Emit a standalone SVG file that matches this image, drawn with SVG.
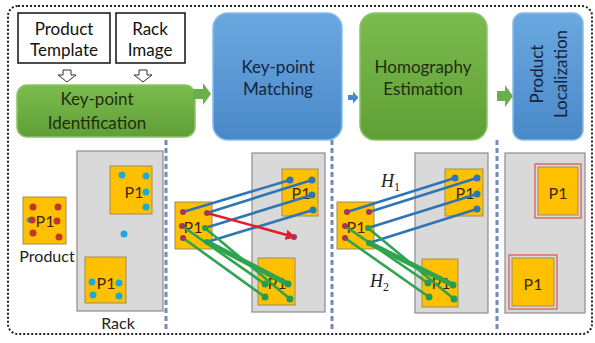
<svg xmlns="http://www.w3.org/2000/svg" width="595" height="343" viewBox="0 0 595 343">
<defs>
<linearGradient id="gG" x1="0" y1="0" x2="0" y2="1"><stop offset="0" stop-color="#7cbb4e"/><stop offset="1" stop-color="#5f9f35"/></linearGradient>
<linearGradient id="gB" x1="0" y1="0" x2="0" y2="1"><stop offset="0" stop-color="#6aa8e0"/><stop offset="1" stop-color="#4a89c9"/></linearGradient>
<marker id="ra" viewBox="0 0 10 10" refX="8" refY="5" markerWidth="4" markerHeight="4" orient="auto"><path d="M0,0 L10,5 L0,10 z" fill="#e0202a"/></marker>
</defs>
<style>
.lbl{font-family:Lato,"Open Sans","Liberation Sans",sans-serif;font-size:17px;text-anchor:middle;}
.box{fill:#fff;stroke:#111;stroke-width:1.5;}
.gbox{fill:url(#gG);stroke:#8cc46a;stroke-width:1.5;}
.bbox{fill:url(#gB);stroke:#8bbbe6;stroke-width:1.5;}
.gt{fill:#1e2e12;}
.bt{fill:#14243e;}
.rack{fill:#d9d9d9;stroke:#8c8c8c;stroke-width:1.2;}
.prod{fill:#ffc000;stroke:#a08c5a;stroke-width:1;}
.p1{font-family:Lato,"Open Sans","Liberation Sans",sans-serif;font-size:16px;text-anchor:middle;fill:#3a2a00;}
.sm{font-family:Lato,"Open Sans","Liberation Sans",sans-serif;font-size:16px;text-anchor:middle;fill:#222;}
.sep{stroke:#6f8cb8;stroke-width:3;stroke-dasharray:5 3;fill:none;}
.hol{fill:#fff;stroke:#333;stroke-width:1;}
.rd{fill:#c0362c;}
.cd{fill:#1fa8dc;}
.pd{fill:#a0385a;}
.bd{fill:#2e75b6;}
.gd{fill:#2a9a50;}
.bl{stroke:#2e75b6;stroke-width:2.6;}
.gl{stroke:#2ea44f;stroke-width:2.6;}
.glt{stroke:#2ea44f;stroke-width:5;}
.redl{stroke:#e0202a;stroke-width:2.6;}
.H{font-family:"Liberation Serif",serif;font-style:italic;font-size:18px;fill:#222;}
.Hs{font-family:"Liberation Serif",serif;font-size:12px;fill:#222;}
.loc{fill:none;stroke:#e05050;stroke-width:1.2;}
</style>
<rect x="8" y="6" width="584" height="328" rx="10" fill="none" stroke="#222" stroke-width="2" stroke-dasharray="2 2"/>

<g id="product-template">
<rect class="box" x="18" y="13" width="92" height="50"/>
<text class="lbl" x="64" y="35" fill="#111">Product</text>
<text class="lbl" x="64" y="56" fill="#111">Template</text>
<path class="hol" d="M63,70 h8 v5 h5 l-9,7 l-9,-7 h5 z"/>
</g>
<g id="rack-image">
<rect class="box" x="116" y="13" width="69" height="50"/>
<text class="lbl" x="150" y="35" fill="#111">Rack</text>
<text class="lbl" x="150" y="56" fill="#111">Image</text>
<path class="hol" d="M139,70 h8 v5 h5 l-9,7 l-9,-7 h5 z"/>
</g>
<g id="keypoint-identification">
<rect class="gbox" x="17" y="85" width="178" height="52" rx="10"/>
<text class="lbl gt" x="97" y="105">Key-point</text>
<text class="lbl gt" x="97" y="129">Identification</text>
</g>
<g id="keypoint-matching">
<rect class="bbox" x="213" y="13" width="129" height="127" rx="15"/>
<text class="lbl bt" x="278" y="73">Key-point</text>
<text class="lbl bt" x="278" y="95">Matching</text>
</g>
<g id="homography-estimation">
<rect class="gbox" x="360" y="13" width="127" height="127" rx="15"/>
<text class="lbl gt" x="423" y="73">Homography</text>
<text class="lbl gt" x="423" y="95">Estimation</text>
</g>
<g id="product-localization">
<rect class="bbox" x="513" y="13" width="70" height="127" rx="10"/>
<text class="lbl bt" transform="translate(543,74) rotate(-90)">Product</text>
<text class="lbl bt" transform="translate(567,74) rotate(-90)">Localization</text>
</g>

<g id="flow-arrows">
<path d="M193,89 h10 v-6 l8,11 l-8,11 v-6 h-10 z" fill="#6ab04a"/>
<path d="M348,95 h5 v-3.5 l5.5,6 l-5.5,6 v-3.5 h-5 z" fill="#4a86d0"/>
<path d="M497,91 h8 v-6 l8,11 l-8,11 v-6 h-8 z" fill="#6ab04a"/>
</g>

<g id="separators">
<line class="sep" x1="166" y1="140" x2="166" y2="332"/>
<line class="sep" x1="332" y1="140" x2="332" y2="332"/>
<line class="sep" x1="497" y1="140" x2="497" y2="332"/>
</g>

<g id="panel-identification">
<rect class="prod" x="23" y="197" width="43" height="47"/>
<text class="p1" x="45" y="227">P1</text>
<circle class="cd" cx="29" cy="220" r="2.5"/>
<circle class="rd" cx="33" cy="207" r="3.5"/><circle class="rd" cx="58" cy="207" r="3.5"/>
<circle class="rd" cx="32" cy="220" r="3.5"/><circle class="rd" cx="57" cy="221" r="3.5"/>
<circle class="rd" cx="33" cy="233" r="3.5"/><circle class="rd" cx="59" cy="237" r="3.5"/>
<text class="sm" x="47" y="262" font-size="15">Product</text>
<rect class="rack" x="77" y="151" width="86" height="160"/>
<rect class="prod" x="110" y="166" width="42" height="48"/>
<text class="p1" x="134" y="198">P1</text>
<circle class="cd" cx="122" cy="175" r="3.5"/><circle class="cd" cx="146" cy="176" r="3.5"/>
<circle class="cd" cx="146" cy="192" r="3.5"/><circle class="cd" cx="146" cy="207" r="3.5"/>
<circle class="cd" cx="124" cy="234" r="3.5"/>
<rect class="prod" x="85" y="257" width="41" height="46"/>
<text class="p1" x="106" y="289">P1</text>
<circle class="cd" cx="92" cy="282" r="3.5"/><circle class="cd" cx="119" cy="283" r="3.5"/>
<circle class="cd" cx="93" cy="295" r="3.5"/><circle class="cd" cx="119" cy="296" r="3.5"/>
<text class="sm" x="118" y="329">Rack</text>
</g>

<g id="panel-matching">
<rect class="rack" x="252" y="153" width="73" height="159"/>
<rect class="prod" x="282" y="169" width="36" height="47"/>
<text class="p1" x="301" y="199">P1</text>
<rect class="prod" x="258" y="258" width="37" height="47"/>
<text class="p1" x="277" y="289">P1</text>
<rect class="prod" x="175" y="202" width="37" height="47"/>
<text class="p1" x="193" y="233">P1</text>
</g>

<g id="panel-homography">
<rect class="rack" x="415" y="153" width="73" height="160"/>
<rect class="prod" x="445" y="169" width="38" height="47"/>
<text class="p1" x="465" y="199">P1</text>
<rect class="prod" x="422" y="259" width="36" height="48"/>
<text class="p1" x="441" y="289">P1</text>
<rect class="prod" x="337" y="202" width="37" height="47"/>
<text class="p1" x="356" y="233">P1</text>
<text class="H" x="381" y="187">H</text><text class="Hs" x="394" y="191">1</text>
<text class="H" x="370" y="287">H</text><text class="Hs" x="383" y="291">2</text>
</g>

<g id="panel-localization">
<rect class="rack" x="505" y="153" width="80" height="160"/>
<rect class="loc" x="535" y="164" width="46" height="54"/>
<rect class="prod" x="538" y="167" width="40" height="48"/>
<text class="p1" x="558" y="199">P1</text>
<rect class="loc" x="509" y="255" width="48" height="54"/>
<rect class="prod" x="512" y="258" width="42" height="48"/>
<text class="p1" x="533" y="290">P1</text>
</g>

<g id="connectors">
<line class="bl" x1="183" y1="212" x2="290" y2="180"/>
<line class="bl" x1="207" y1="213" x2="312" y2="180"/>
<line class="bl" x1="205" y1="228" x2="312" y2="195"/>
<line class="bl" x1="207" y1="242" x2="313" y2="210"/>
<line class="redl" x1="207" y1="213" x2="294" y2="237" marker-end="url(#ra)"/>
<line class="gl" x1="182" y1="226" x2="265" y2="284"/>
<line class="gl" x1="183" y1="238" x2="265" y2="297"/>
<line class="gl" x1="205" y1="228" x2="290" y2="299"/>
<line class="glt" x1="207" y1="242" x2="288" y2="284"/>
<line class="bl" x1="347" y1="212" x2="455" y2="178"/>
<line class="bl" x1="369" y1="212" x2="477" y2="178"/>
<line class="bl" x1="368" y1="228" x2="477" y2="194"/>
<line class="bl" x1="369" y1="243" x2="477" y2="209"/>
<line class="gl" x1="345" y1="226" x2="428" y2="283"/>
<line class="gl" x1="345" y1="238" x2="429" y2="297"/>
<line class="gl" x1="368" y1="228" x2="454" y2="299"/>
<line class="glt" x1="369" y1="243" x2="453" y2="285"/>
</g>

<g id="match-dots">
<circle class="pd" cx="183" cy="212" r="3"/><circle class="pd" cx="207" cy="213" r="3"/>
<circle class="pd" cx="182" cy="226" r="3"/><circle class="gd" cx="205" cy="228" r="3"/>
<circle class="pd" cx="183" cy="238" r="3"/><circle class="gd" cx="207" cy="242" r="3"/>
<circle class="bd" cx="290" cy="180" r="3.5"/><circle class="bd" cx="312" cy="180" r="3.5"/>
<circle class="bd" cx="312" cy="195" r="3.5"/><circle class="bd" cx="313" cy="210" r="3.5"/>
<circle class="pd" cx="294" cy="237" r="3"/>
<circle class="gd" cx="265" cy="284" r="3.5"/><circle class="gd" cx="265" cy="297" r="3.5"/>
<circle class="gd" cx="288" cy="284" r="3.5"/><circle class="gd" cx="290" cy="299" r="3.5"/>
<circle class="pd" cx="347" cy="212" r="3"/><circle class="pd" cx="369" cy="212" r="3"/>
<circle class="pd" cx="345" cy="226" r="3"/><circle class="gd" cx="368" cy="228" r="3"/>
<circle class="pd" cx="345" cy="238" r="3"/><circle class="gd" cx="369" cy="243" r="3"/>
<circle class="bd" cx="455" cy="178" r="3.5"/><circle class="bd" cx="477" cy="178" r="3.5"/>
<circle class="bd" cx="477" cy="194" r="3.5"/><circle class="bd" cx="477" cy="209" r="3.5"/>
<circle class="gd" cx="428" cy="283" r="3.5"/><circle class="gd" cx="429" cy="297" r="3.5"/>
<circle class="gd" cx="453" cy="285" r="3.5"/><circle class="gd" cx="454" cy="299" r="3.5"/>
</g>
</svg>
